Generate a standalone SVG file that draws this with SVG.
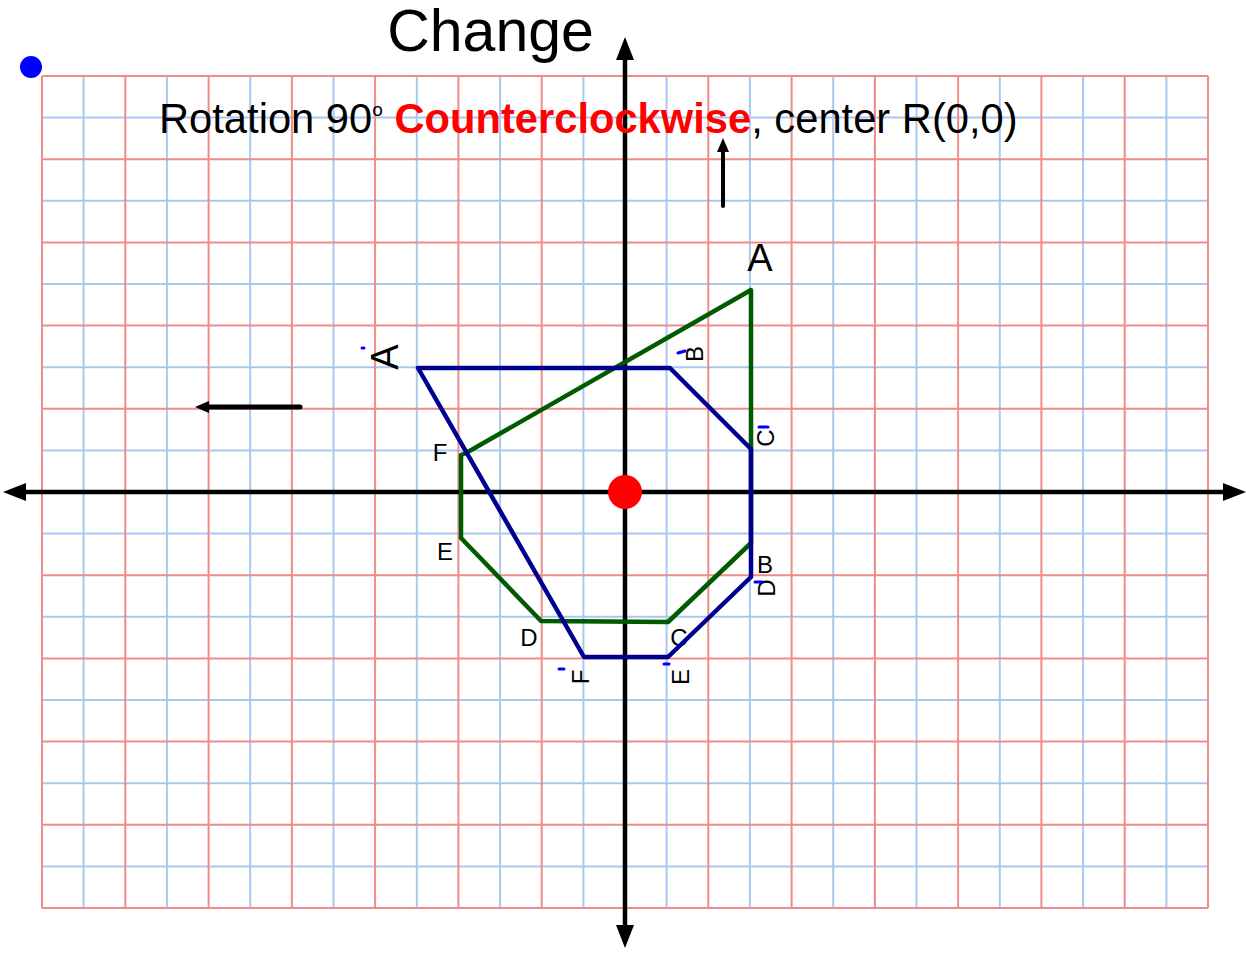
<svg xmlns="http://www.w3.org/2000/svg" width="1246" height="956" viewBox="0 0 1246 956">
<style>
.gb{stroke:#a9c8f0;stroke-width:2;fill:none}
.gr{stroke:#f08b8b;stroke-width:2;fill:none}
.ax{stroke:#000;stroke-width:4.5;fill:none}
.t{font-family:"Liberation Sans",Arial,sans-serif;fill:#000}
.lbl{font-family:"Liberation Sans",Arial,sans-serif;font-size:24px;fill:#000;text-anchor:middle}
.big{font-family:"Liberation Sans",Arial,sans-serif;font-size:38px;fill:#000;text-anchor:middle}
.pr{stroke:#0000ff;stroke-width:3;stroke-linecap:round;fill:none}
</style>
<rect x="0" y="0" width="1246" height="956" fill="#fff"/>
<g id="grid">
<path class="gb" d="M83.6 76V908M166.9 76V908M250.2 76V908M333.5 76V908M416.8 76V908M500.1 76V908M583.4 76V908M666.6 76V908M749.9 76V908M833.2 76V908M916.5 76V908M999.8 76V908M1083.1 76V908M1166.4 76V908M42 117.6H1208M42 200.8H1208M42 284H1208M42 367.2H1208M42 450.4H1208M42 533.6H1208M42 616.8H1208M42 700H1208M42 783.2H1208M42 866.4H1208"/>
<path class="gr" d="M42 76V908M125.3 76V908M208.6 76V908M291.9 76V908M375.1 76V908M458.4 76V908M541.7 76V908M625 76V908M708.3 76V908M791.6 76V908M874.9 76V908M958.1 76V908M1041.4 76V908M1124.7 76V908M1208 76V908M42 76H1208M42 159.2H1208M42 242.4H1208M42 325.6H1208M42 408.8H1208M42 492H1208M42 575.2H1208M42 658.4H1208M42 741.6H1208M42 824.8H1208M42 908H1208"/>
</g>
<g id="axes">
<path class="ax" d="M625 58V928M24 492H1225"/>
<polygon points="625,37 616,60 634,60" fill="#000"/>
<polygon points="625,948 616,925 634,925" fill="#000"/>
<polygon points="3,492 26,483 26,501" fill="#000"/>
<polygon points="1246,492 1223,483 1223,501" fill="#000"/>
</g>
<g id="title">
<text class="t" x="490.5" y="51" font-size="59" text-anchor="middle">Change</text>
<text class="t" x="159" y="133" font-size="41.7">Rotation 90<tspan font-size="19" dy="-17">o</tspan><tspan dy="17"> </tspan><tspan fill="#ff0000" font-weight="bold">Counterclockwise</tspan>, center R(0,0)</text>
</g>
<g id="arrows">
<path d="M723 206V150" stroke="#000" stroke-width="4" stroke-linecap="round" fill="none"/>
<polygon points="723,138 717,152 729,152" fill="#000"/>
<path d="M300 407H207" stroke="#000" stroke-width="5" stroke-linecap="round" fill="none"/>
<polygon points="195,407 209,401 209,413" fill="#000"/>
</g>
<g id="original">
<polygon points="751,290 751,543 668,622 541,621 461,538 461,455 466,453" fill="none" stroke="#005a00" stroke-width="4.5" stroke-linejoin="round"/>
<text class="big" x="760" y="271">A</text>
<text class="lbl" x="765" y="573">B</text>
<text class="lbl" x="679" y="646">C</text>
<text class="lbl" x="529" y="646">D</text>
<text class="lbl" x="445" y="560">E</text>
<text class="lbl" x="440" y="461">F</text>
</g>
<g id="image">
<polygon points="418,368 670,368 751,449 751,577 668,657 584,657" fill="none" stroke="#000090" stroke-width="4.5" stroke-linejoin="round"/>
<text class="big" transform="translate(384,357) rotate(-90)" x="0" y="13.6">A</text>
<text class="lbl" transform="translate(694,354) rotate(-90)" x="0" y="8.6">B</text>
<text class="lbl" transform="translate(765,438) rotate(-90)" x="0" y="8.6">C</text>
<text class="lbl" transform="translate(766,588) rotate(-90)" x="0" y="8.6">D</text>
<text class="lbl" transform="translate(680,677) rotate(-90)" x="0" y="8.6">E</text>
<text class="lbl" transform="translate(580,677) rotate(-90)" x="0" y="8.6">F</text>
<path class="pr" d="M362 348H364M678 353L685 351M759 427H768M755 582H762M664 664H669M559 669H564"/>
</g>
<g id="points">
<circle cx="31" cy="67" r="11" fill="#0000ff"/>
<circle cx="625" cy="492" r="17" fill="#ff0000"/>
</g>
</svg>
